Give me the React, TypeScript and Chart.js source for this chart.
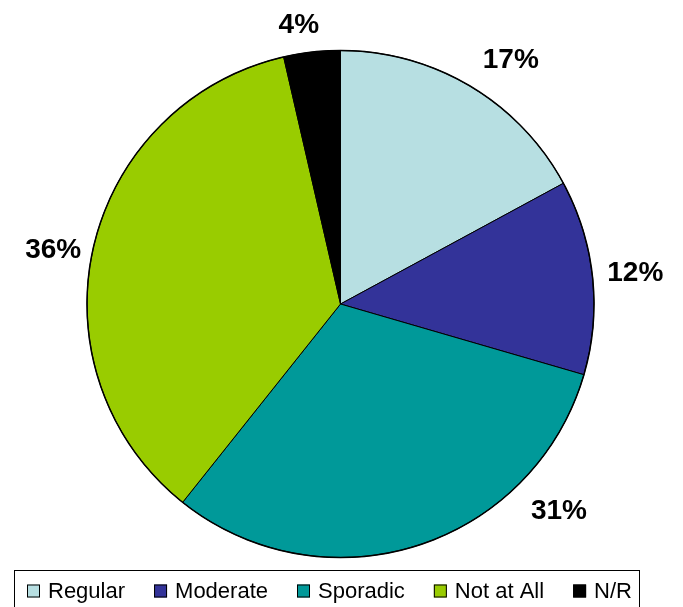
import React, { useEffect, useRef } from "react";
import { Chart, registerables } from "chart.js";

Chart.register(...registerables);

const categories = ["Regular", "Moderate", "Sporadic", "Not at All", "N/R"];
const values = [17.1, 12.4, 31.2, 35.7, 3.6];
const colors = ["#B7DFE2", "#333399", "#009999", "#99CC00", "#000000"];

// label placement tweaks (style only): angle offset in degrees, radial gap beyond the pie edge
const labelAngleOffset = [4, 0, -29, -2, -2];
const labelGap = [45, 43, 47, 39, 29];

const W = 683;
const H = 607;

const labelsPlugin = {
  id: "pieLabels",
  afterDraw(chart: any) {
    const ctx = chart.ctx;
    const meta = chart.getDatasetMeta(0);
    ctx.save();
    ctx.font = "bold 28px 'Liberation Sans', Arial, sans-serif";
    ctx.fillStyle = "#000";
    ctx.textAlign = "center";
    ctx.textBaseline = "middle";
    meta.data.forEach((arc: any, i: number) => {
      const p = arc.getProps(["x", "y", "startAngle", "endAngle", "outerRadius"], true);
      const mid = (p.startAngle + p.endAngle) / 2 + (labelAngleOffset[i] * Math.PI) / 180;
      const r = p.outerRadius + labelGap[i];
      const x = p.x + Math.cos(mid) * r;
      const y = p.y + Math.sin(mid) * r;
      ctx.fillText(Math.round(values[i]) + "%", x, y + 1);
    });

    // outer rim slightly heavier, as in the reference
    const a0: any = meta.data[0];
    ctx.beginPath();
    ctx.arc(a0.x, a0.y, a0.outerRadius, 0, Math.PI * 2);
    ctx.strokeStyle = "#000";
    ctx.lineWidth = 1.5;
    ctx.stroke();

    // legend box
    const boxL = 14.5, boxT = 570.5, boxR = 639.5, boxB = H + 2;
    ctx.strokeStyle = "#000";
    ctx.lineWidth = 1;
    ctx.strokeRect(boxL, boxT, boxR - boxL, boxB - boxT);
    ctx.font = "22px 'Liberation Sans', Arial, sans-serif";
    ctx.textAlign = "left";
    const sq = 13, gap = 8;
    const widths = categories.map((c) => ctx.measureText(c).width);
    const startX = 27, endX = 632;
    const itemsW = widths.reduce((a, b) => a + b, 0) + categories.length * (sq + gap);
    const spacing = (endX - startX - itemsW) / (categories.length - 1);
    let x = startX;
    const cy = 591;
    categories.forEach((c, i) => {
      ctx.fillStyle = colors[i];
      ctx.fillRect(x, cy - sq / 2, sq, sq);
      ctx.strokeStyle = "#000";
      ctx.strokeRect(x + 0.5, cy - sq / 2 + 0.5, sq - 1, sq - 1);
      ctx.fillStyle = "#000";
      ctx.fillText(c, x + sq + gap, cy + 1);
      x += sq + gap + widths[i] + spacing;
    });
    ctx.restore();
  },
};

export default function App() {
  const ref = useRef<HTMLCanvasElement>(null);
  useEffect(() => {
    if (!ref.current) return;
    const chart = new Chart(ref.current, {
      type: "pie",
      data: {
        labels: categories,
        datasets: [
          {
            data: values,
            backgroundColor: colors,
            borderColor: "#000000",
            borderWidth: 1,
            hoverBorderWidth: 1,
            hoverOffset: 0,
          },
        ],
      },
      options: {
        responsive: false,
        animation: false,
        layout: { padding: { top: 50, bottom: 49, left: 86, right: 88 } },
        plugins: { legend: { display: false }, tooltip: { enabled: false } },
      },
      plugins: [labelsPlugin],
    });
    return () => chart.destroy();
  }, []);
  return (
    <div style={{ position: "fixed", left: 0, top: 0, width: W, height: H, background: "#fff" }}>
      <canvas ref={ref} width={W} height={H} style={{ width: W, height: H }} />
    </div>
  );
}
